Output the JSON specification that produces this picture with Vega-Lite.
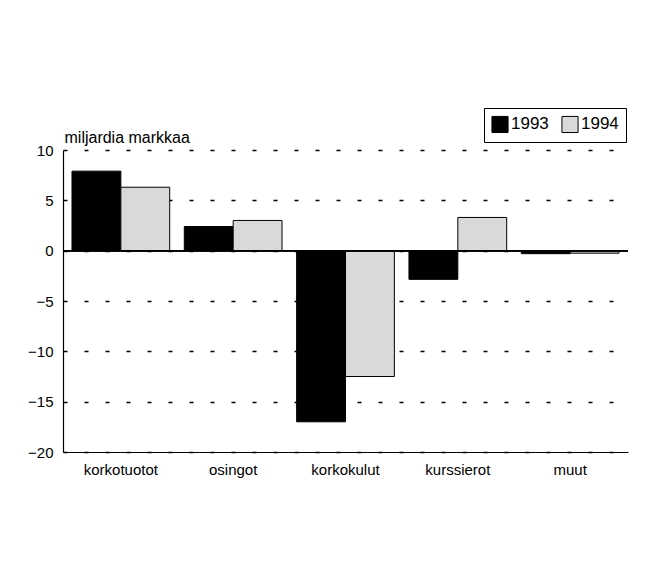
{
  "$schema": "https://vega.github.io/schema/vega-lite/v6.json",
  "autosize": {"type": "none"},
  "width": 565,
  "height": 302,
  "padding": {"left": 63, "top": 150, "right": 31, "bottom": 132},
  "background": "white",
  "config": {
    "font": "Liberation Sans",
    "view": {"stroke": null},
    "axis": {"labelFont": "Liberation Sans", "labelColor": "black", "labelFontSize": 15, "titleFont": "Liberation Sans"},
    "legend": {"labelFont": "Liberation Sans"}
  },
  "data": {
    "values": [
      {"erä": "korkotuotot", "vuosi": "1993", "arvo": 7.9},
      {"erä": "korkotuotot", "vuosi": "1994", "arvo": 6.3},
      {"erä": "osingot", "vuosi": "1993", "arvo": 2.4},
      {"erä": "osingot", "vuosi": "1994", "arvo": 3.0},
      {"erä": "korkokulut", "vuosi": "1993", "arvo": -17.0},
      {"erä": "korkokulut", "vuosi": "1994", "arvo": -12.5},
      {"erä": "kurssierot", "vuosi": "1993", "arvo": -2.85},
      {"erä": "kurssierot", "vuosi": "1994", "arvo": 3.3},
      {"erä": "muut", "vuosi": "1993", "arvo": -0.3},
      {"erä": "muut", "vuosi": "1994", "arvo": -0.25}
    ]
  },
  "layer": [
    {
      "mark": {"type": "bar", "stroke": "black", "strokeWidth": 1},
      "encoding": {
        "x": {
          "field": "erä", "type": "nominal",
          "sort": ["korkotuotot", "osingot", "korkokulut", "kurssierot", "muut"],
          "scale": {"paddingInner": 0.13, "paddingOuter": 0.08},
          "axis": {"title": null, "labelAngle": 0, "ticks": false, "domainColor": "black", "domainWidth": 1.2, "labelPadding": 10, "labelBaseline": "top"}
        },
        "xOffset": {"field": "vuosi", "type": "nominal", "scale": {"paddingInner": 0, "paddingOuter": 0}},
        "y": {
          "field": "arvo", "type": "quantitative",
          "scale": {"domain": [-20, 10], "nice": false, "zero": false},
          "axis": {
            "values": [-20, -15, -10, -5, 0, 5, 10],
            "title": "miljardia markkaa",
            "titleAngle": 0, "titleX": 1, "titleY": -5, "titleAlign": "left", "titleBaseline": "bottom",
            "titleFontSize": 16, "titleFontWeight": "normal", "titleColor": "black",
            "ticks": false, "domainColor": "black", "domainWidth": 1.2, "labelPadding": 10,
            "grid": true, "gridColor": "black", "gridDash": [4, 17], "gridWidth": 1.3, "gridOpacity": 1
          }
        },
        "fill": {
          "field": "vuosi", "type": "nominal",
          "scale": {"domain": ["1993", "1994"], "range": ["black", "#d9d9d9"]},
          "legend": {
            "title": null, "orient": "none", "legendX": 421, "legendY": -42, "direction": "horizontal",
            "strokeColor": "black", "padding": 7, "symbolType": "square", "symbolSize": 260,
            "symbolStrokeColor": "black", "symbolStrokeWidth": 1, "labelFontSize": 17, "labelColor": "black",
            "columnPadding": 10, "labelOffset": 2
          }
        }
      }
    },
    {
      "mark": {"type": "rule", "color": "black", "strokeWidth": 1.2},
      "encoding": {"y": {"datum": 0}}
    }
  ]
}
